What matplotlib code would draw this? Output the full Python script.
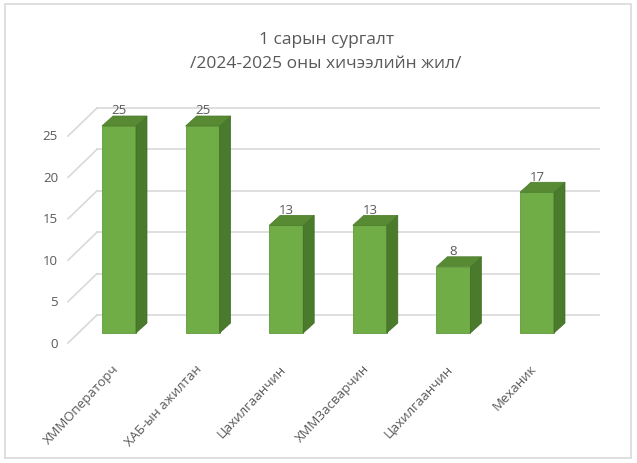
import matplotlib.pyplot as plt
from matplotlib.patches import Polygon, Rectangle

# ── data ─────────────────────────────────────────────────────
categories = ['ХММОператорч', 'ХАБ-ын ажилтан', 'Цахилгаанчин',
              'ХММЗасварчин', 'Цахилгаанчин', 'Механик']
values = [25, 25, 13, 13, 8, 17]
y_ticks = [0, 5, 10, 15, 20, 25]
title = '1 сарын сургалт\n/2024-2025 оны хичээлийн жил/'

plt.rcParams['font.family'] = ['Open Sans', 'DejaVu Sans']

TEXT = '#595959'
GRID = '#d9d9d9'
FRONT = '#70ad47'
SIDE = '#4a7a2b'
TOP = '#578a33'

# pixel geometry of the pseudo-3D frame
PX, PY = 83.6, 8.28          # pixels per category / per unit
X0, Y0 = 119, 334            # first bar centre, bar base (pixels)
W = 637, 464

fig = plt.figure(figsize=(6.37, 4.64), dpi=100)
ax = fig.add_axes([0, 0, 1, 1])
ax.set_xlim(-X0 / PX, (W[0] - X0) / PX)
ax.set_ylim((Y0 - W[1]) / PY, Y0 / PY)
ax.axis('off')

hw = 34 / PX / 2             # half bar width
dx, dy = 11 / PX, 10 / PY    # bar depth offset
wall_dy = 18 / PY            # back wall vs bar front
front_dy = -10 / PY          # front floor edge vs bar front
wall_x0, wall_x1 = (97 - X0) / PX, (599 - X0) / PX
side_x0 = (68 - X0) / PX

# back wall gridlines + side wall diagonals
for t in y_ticks:
    ax.plot([wall_x0, wall_x1], [t + wall_dy] * 2, color=GRID, lw=1.2, zorder=1)
    ax.plot([side_x0, wall_x0], [t + front_dy, t + wall_dy], color=GRID, lw=1.2, zorder=1)
    ax.text((58 - X0) / PX, t + front_dy, str(t), ha='right', va='center',
            fontsize=9.5, color=TEXT)

xs = list(range(len(values)))
ax.bar(xs, values, width=2 * hw, color=FRONT, edgecolor='#5f9a3a', lw=0.6, zorder=3)
for x, v in zip(xs, values):
    side = [(x + hw, 0), (x + hw + dx, dy), (x + hw + dx, v + dy), (x + hw, v)]
    top = [(x - hw, v), (x + hw, v), (x + hw + dx, v + dy), (x - hw + dx, v + dy)]
    ax.add_patch(Polygon(side, closed=True, facecolor=SIDE, edgecolor='#3f6a24', lw=0.5, zorder=3))
    ax.add_patch(Polygon(top, closed=True, facecolor=TOP, edgecolor='#4a7a2b', lw=0.5, zorder=3))
    ax.text(x, v + 16 / PY, str(v), ha='center', va='center', fontsize=9.5, color=TEXT, zorder=4)

for x, lab in zip(xs, categories):
    ax.text(x - 0.03, -33 / PY, lab, rotation=47, rotation_mode='anchor',
            ha='right', va='center', fontsize=9.5, color=TEXT)

fig.text(0.512, 1 - 52 / W[1], title, ha='center', va='center',
         fontsize=12.5, color=TEXT, linespacing=1.65)

fig.patches.append(Rectangle((5 / W[0], 5 / W[1]), 626 / W[0], 454 / W[1],
                             transform=fig.transFigure, fill=False,
                             edgecolor=GRID, lw=1.2))

fig.savefig('out.png', dpi=100)
